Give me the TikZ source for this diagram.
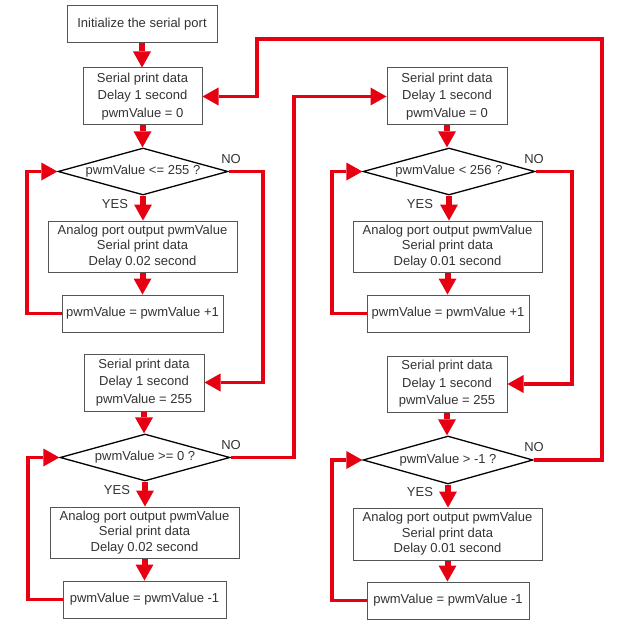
\documentclass[tikz,border=0pt]{standalone}
\usepackage{fontspec}
\setmainfont{Liberation Sans}
\usetikzlibrary{arrows.meta,shapes.geometric}
\definecolor{fred}{HTML}{E60012}
\definecolor{ftxt}{HTML}{333333}
\definecolor{boxgray}{HTML}{555555}
\begin{document}
\begin{tikzpicture}[x=1pt,y=-1pt,
  box/.style={draw=boxgray, line width=1pt, fill=white, text=ftxt, align=center, inner sep=0pt,
    font=\fontsize{13}{17.5}\selectfont},
  abox/.style={box, font=\fontsize{13}{15.5}\selectfont},
  dia/.style={diamond, draw=black, line width=1.3pt, aspect=3.6, inner sep=0pt, text=ftxt,
    font=\fontsize{13}{14}\selectfont},
  lbl/.style={text=ftxt, inner sep=0pt, font=\fontsize{13}{14}\selectfont},
  tip/.tip={Triangle[width=18pt,length=16pt,line width=0pt]},
  flow/.style={draw=fred, line width=6pt, -tip},
  conn/.style={draw=fred, line width=3.5pt, line join=miter, -tip}
]
\path[use as bounding box] (0,0) rectangle (630,626);

% left column
\node[box, minimum width=150pt, minimum height=37pt] (init) at (142,24.5) {Initialize the serial port};
\node[box, minimum width=119pt, minimum height=57pt] (b1) at (142.5,96.5) {Serial print data\\Delay 1 second\\pwmValue = 0};
\node[dia, minimum width=170pt, minimum height=47pt] (d1) at (143,171.5) {pwmValue <= 255 ?};
\node[abox, minimum width=189pt, minimum height=51pt] (a1) at (142.5,246.5) {Analog port output pwmValue\\Serial print data\\Delay 0.02 second};
\node[box, minimum width=161pt, minimum height=37pt] (p1) at (142.5,313.5) {pwmValue = pwmValue +1};
\node[box, minimum width=120pt, minimum height=57pt] (b2) at (144,382.5) {Serial print data\\Delay 1 second\\pwmValue = 255};
\node[dia, minimum width=170pt, minimum height=47pt] (d2) at (145,457.5) {pwmValue >= 0 ?};
\node[abox, minimum width=189pt, minimum height=51pt] (a2) at (144.5,532.5) {Analog port output pwmValue\\Serial print data\\Delay 0.02 second};
\node[box, minimum width=163pt, minimum height=37pt] (p2) at (144.5,599.5) {pwmValue = pwmValue -1};

% right column
\node[box, minimum width=120pt, minimum height=57pt] (b3) at (447,96.5) {Serial print data\\Delay 1 second\\pwmValue = 0};
\node[dia, minimum width=172pt, minimum height=47pt] (d3) at (449,171.5) {pwmValue < 256 ?};
\node[abox, minimum width=189pt, minimum height=51pt] (a3) at (447.5,246.5) {Analog port output pwmValue\\Serial print data\\Delay 0.01 second};
\node[box, minimum width=162pt, minimum height=37pt] (p3) at (448,313.5) {pwmValue = pwmValue +1};
\node[box, minimum width=120pt, minimum height=56pt] (b4) at (447,384) {Serial print data\\Delay 1 second\\pwmValue = 255};
\node[dia, minimum width=170pt, minimum height=48pt] (d4) at (448,460) {pwmValue > -1 ?};
\node[abox, minimum width=189pt, minimum height=52pt] (a4) at (447.5,534) {Analog port output pwmValue\\Serial print data\\Delay 0.01 second};
\node[box, minimum width=162pt, minimum height=37pt] (p4) at (448,600.5) {pwmValue = pwmValue -1};

% labels
\node[lbl] (no1) at (231,159) {NO};
\node[lbl] (yes1) at (115,204) {YES};
\node[lbl] (no2) at (231,445) {NO};
\node[lbl] (yes2) at (117,490) {YES};
\node[lbl] (no3) at (534,159) {NO};
\node[lbl] (yes3) at (420,204) {YES};
\node[lbl] (no4) at (534,447) {NO};
\node[lbl] (yes4) at (420,492) {YES};

% short vertical arrows
\foreach \a/\b in {init/b1,b1/d1,d1/a1,a1/p1,b2/d2,d2/a2,a2/p2,b3/d3,d3/a3,a3/p3,b4/d4,d4/a4,a4/p4}
  \draw[flow] (\a.south) -- (\a.south |- \b.north);

% loops back
\coordinate (l1a) at (27,313.5);
\coordinate (l1b) at (27,171.5);
\draw[conn] (p1.west) -- (l1a) -- (l1b) -- (d1.west);
\coordinate (l2a) at (28,599.5);
\coordinate (l2b) at (28,457.5);
\draw[conn] (p2.west) -- (l2a) -- (l2b) -- (d2.west);
\coordinate (l3a) at (332,313.5);
\coordinate (l3b) at (332,171.5);
\draw[conn] (p3.west) -- (l3a) -- (l3b) -- (d3.west);
\coordinate (l4a) at (332,600.5);
\coordinate (l4b) at (332,460);
\draw[conn] (p4.west) -- (l4a) -- (l4b) -- (d4.west);

% NO branches
\coordinate (n1a) at (263,171.5);
\coordinate (n1b) at (263,382.5);
\draw[conn] (d1.east) -- (n1a) -- (n1b) -- (b2.east);
\coordinate (n2a) at (294,457.5);
\coordinate (n2b) at (294,96.5);
\draw[conn] (d2.east) -- (n2a) -- (n2b) -- (b3.west);
\coordinate (n3a) at (572,171.5);
\coordinate (n3b) at (572,384);
\draw[conn] (d3.east) -- (n3a) -- (n3b) -- (b4.east);
\coordinate (n4a) at (602,460);
\coordinate (n4b) at (602,39);
\coordinate (n4c) at (257,39);
\coordinate (n4d) at (257,96.5);
\draw[conn] (d4.east) -- (n4a) -- (n4b) -- (n4c) -- (n4d) -- (b1.east);
\end{tikzpicture}
\end{document}
